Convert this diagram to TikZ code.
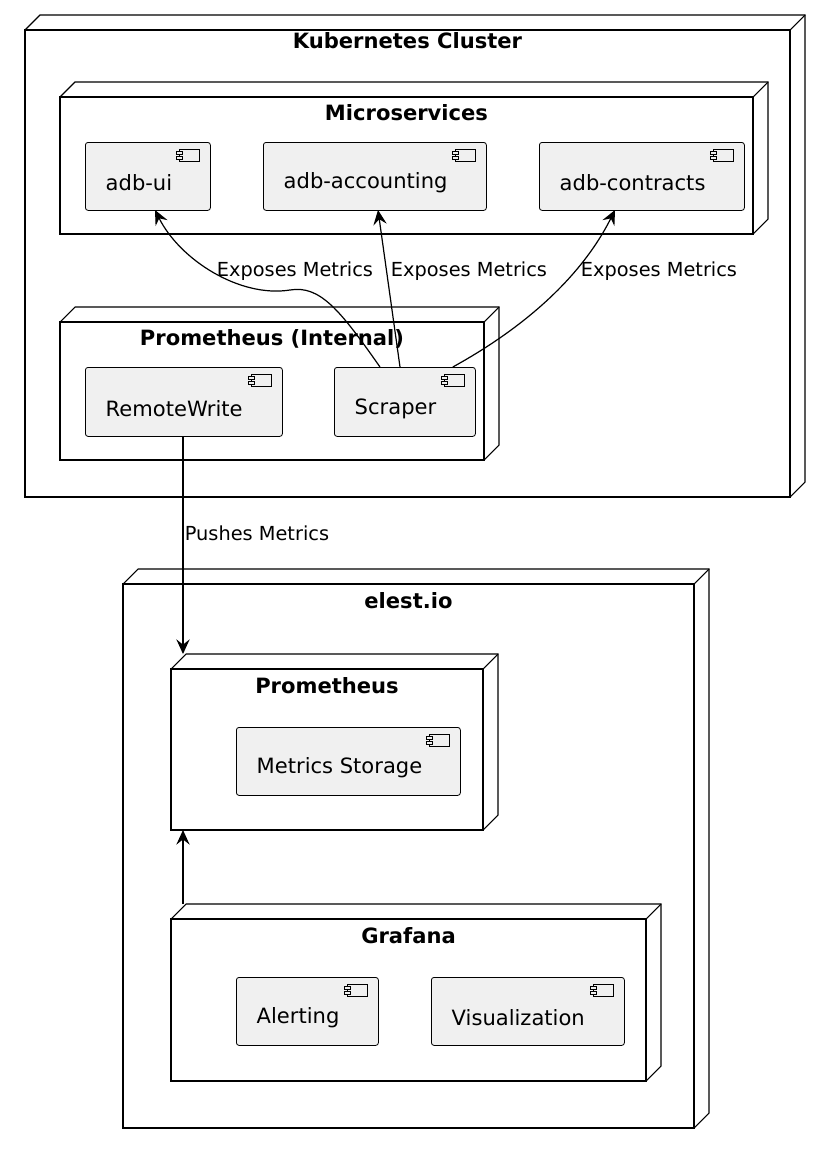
\documentclass[tikz,border=0pt]{standalone}
\usepackage{fontspec}
\setmainfont{DejaVu Sans}
\usetikzlibrary{arrows.meta}
\tikzset{>=stealth}
\tikzset{%
    comp/.style={draw, rounded corners=2pt, fill=black!6, line width=0.6pt,
        anchor=north west, inner sep=0pt},
    ctext/.style={font=\fontsize{15.8}{17}\selectfont, anchor=west},
    box/.style={draw, line width=0.8pt},
    title/.style={font=\bfseries\fontsize{15.8}{17}\selectfont},
    lbl/.style={font=\fontsize{14.5}{16}\selectfont},
    link/.style={draw, line width=0.9pt, -{Stealth[length=11pt,width=10pt,inset=4pt]}}
}
% 3d node: x1,y1,x2,y2,title,title offset
\newcommand{\udnode}[7]{%
  \draw[box] (#2,#3) rectangle (#4,#5);
  \draw[box] (#2,#3) -- ++(15,-15) -- (#4+15,#3-15) -- (#4+15,#5-15) -- (#4,#5);
  \draw[box] (#4,#3) -- (#4+15,#3-15);
  \node[title] (#1) at ({(#2+#4)/2},#3+#7) {#6};
}
% component: name, x1, y1, x2, y2, text
\newcommand{\udcomp}[6]{%
  \node[comp, minimum width={(#4-#2)*0.75pt}, minimum height={(#5-#3)*0.75pt}] (#1) at (#2,#3) {};
  \node[ctext] at (#2+16,{(#3+#5)/2+7}) {#6};
  \draw[line width=0.5pt, fill=black!6] (#4-31,#3+7) rectangle (#4-11,#3+19);
  \draw[line width=0.5pt, fill=black!6] (#4-34,#3+9) rectangle (#4-28,#3+12);
  \draw[line width=0.5pt, fill=black!6] (#4-34,#3+14) rectangle (#4-28,#3+17);
}
\begin{document}
\begin{tikzpicture}[x=0.75pt,y=-0.75pt]
\useasboundingbox (0,0) rectangle (829,1153);

\udnode{k8s}{25}{30}{790}{497}{Kubernetes Cluster}{11}
\udnode{micro}{60}{97}{753}{234}{Microservices}{16}
\udcomp{adbui}{85}{142}{210}{210}{adb-ui}
\udcomp{adbacc}{263}{142}{486}{210}{adb-accounting}
\udcomp{adbcon}{539}{142}{744}{210}{adb-contracts}

\udnode{promint}{60}{322}{484}{460}{Prometheus (Internal)}{17}
\udcomp{remote}{85}{367}{282}{436}{RemoteWrite}
\udcomp{scraper}{334}{367}{475}{436}{Scraper}

\udnode{elest}{123}{584}{694}{1128}{elest.io}{17}
\udnode{prom}{171}{669}{483}{830}{Prometheus}{17}
\udcomp{storage}{236}{727}{460}{795}{Metrics Storage}
\udnode{grafana}{171}{919}{646}{1081}{Grafana}{17}
\udcomp{alert}{236}{977}{378}{1045}{Alerting}
\udcomp{vis}{431}{977}{624}{1045}{Visualization}

\coordinate (promtop) at (183,654);
\coordinate (prombot) at (183,830);
\coordinate (graftop) at (183,904);

\draw[link] (scraper.north west) ++(46,0) .. controls (340,310) and (320,285) .. (290,290)
  .. controls (240,298) and (180,260) .. (155,210);
\draw[link] (scraper.north west) ++(66,0) -- (378,210);
\draw[link] (scraper.north east) ++(-23,0) .. controls (520,330) and (580,280) .. (615,210);
\node[lbl] at (295,271) {Exposes Metrics};
\node[lbl] at (469,271) {Exposes Metrics};
\node[lbl] at (659,271) {Exposes Metrics};

\draw[link] (remote.south west) ++(98,0) -- (promtop);
\node[lbl] at (257,533) {Pushes Metrics};
\draw[link] (graftop) -- (prombot);
\end{tikzpicture}
\end{document}
